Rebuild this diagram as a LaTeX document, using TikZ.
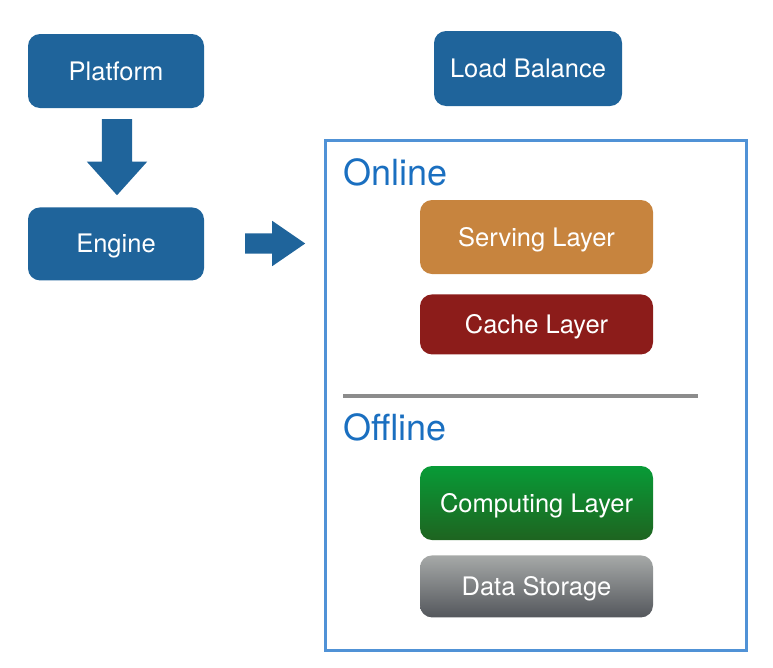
\documentclass[tikz,border=0pt]{standalone}
\usepackage{fontspec}
\setmainfont{TeX Gyre Heros}
\usepackage{tikz}
\usetikzlibrary{positioning,shapes,arrows}

\definecolor{boxblue}{RGB}{31,100,155}
\definecolor{frameblue}{RGB}{80,146,214}
\definecolor{titleblue}{RGB}{26,111,192}
\definecolor{servecol}{RGB}{199,132,62}
\definecolor{cachecol}{RGB}{140,28,26}
\definecolor{greentop}{RGB}{8,155,55}
\definecolor{greenbot}{RGB}{30,100,32}
\definecolor{graytop}{RGB}{166,169,168}
\definecolor{graybot}{RGB}{84,87,92}
\definecolor{sepgray}{RGB}{140,140,140}

\begin{document}
\begin{tikzpicture}[x=1pt,y=-1pt,
  mynodeb/.style={rounded corners=12pt,fill=boxblue,text=white,minimum width=176pt,minimum height=74pt,text height=18pt,text depth=0pt,font=\fontsize{25.5}{30}\selectfont},
  mylayer/.style={rounded corners=12pt,text=white,minimum width=233pt,text height=18pt,text depth=0pt,font=\fontsize{25.5}{30}\selectfont},
  myarrow/.style={single arrow,fill=boxblue,draw=none,anchor=tail},
  mytitle/.style={text=titleblue,anchor=base west,inner sep=0pt,font=\fontsize{36}{40}\selectfont},
 ]
\useasboundingbox (0,0) rectangle (773,667);

\node[mynodeb] (Platform) at (116,71) {Platform};
\node[mynodeb, below=99pt of Platform, minimum height=73pt] (Engine) {Engine};
\node[mynodeb, minimum width=188pt, minimum height=75pt] (LB) at (528,68.5) {Load Balance};

\node[myarrow, shape border rotate=270, inner sep=15pt, single arrow head extend=15pt,
  single arrow tip angle=84, minimum height=76pt] (Adown) at (117,119) {};
\node[myarrow, inner sep=10pt, single arrow head extend=12.5pt,
  single arrow tip angle=69, minimum height=60pt] (Aright) at (245,243.5) {};

% online / offline frame
\node[draw=frameblue, line width=2.2pt, minimum width=421pt, minimum height=510pt] (Frame) at (536,395.5) {};

\node[mytitle] (Online) at (343,185) {Online};
\node[mylayer, fill=servecol, minimum height=74pt] (Serving) at (536.5,237) {Serving Layer};
\node[mylayer, fill=cachecol, minimum height=60pt, below=20pt of Serving] (Cache) {Cache Layer};

\draw[sepgray, line width=3.5pt] (343,396) -- (698,396);

\node[mytitle] (Offline) at (343,440) {Offline};
\node[mylayer, top color=greentop, bottom color=greenbot, minimum height=74pt] (Computing) at (536.5,503) {Computing Layer};
\node[mylayer, top color=graytop, bottom color=graybot, minimum height=62pt, below=15pt of Computing] (Data) {Data Storage};

\end{tikzpicture}
\end{document}
